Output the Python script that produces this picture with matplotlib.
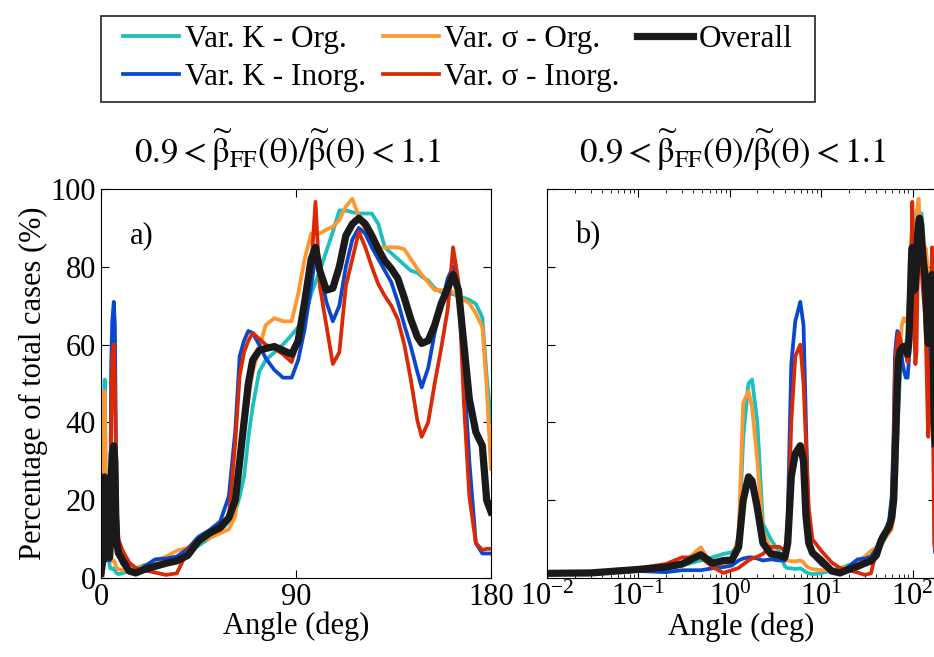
import matplotlib
matplotlib.use("Agg")
import matplotlib.pyplot as plt
from matplotlib.patches import Rectangle
import numpy as np

plt.rcParams['font.family'] = 'serif'
plt.rcParams['font.serif'] = ['Liberation Serif', 'DejaVu Serif']
plt.rcParams['mathtext.fontset'] = 'stix'
plt.rcParams['font.size'] = 22

# scattering angle (deg), shared by all series
angle = [0.01, 0.03, 0.1, 0.2, 0.3, 0.48, 0.65, 0.85, 1.05, 1.25,
         1.4, 1.6, 1.75, 2.0, 2.3, 2.8, 3.5, 4.0, 4.3, 4.7,
         5.2, 5.9, 6.4, 6.8, 7.3, 8.0, 10, 13, 16, 20,
         25, 30, 35, 40, 45, 50, 55, 59, 62, 64,
         66, 68, 70, 73, 76, 80, 84, 88, 91, 94,
         97, 99, 101, 104, 107, 110, 113, 116, 119, 122,
         125, 128, 131, 134, 137, 140, 143, 146, 148, 151,
         154, 157, 160, 162.5, 165, 167.5, 170, 173, 176, 178, 180]

k_org = [1.3, 1.3, 2.0, 2.5, 3.2, 4.5, 5.3, 6.2, 6.6, 8.5,
         36, 50, 51, 40, 14, 10, 6.5, 3.0, 2.5, 2.5,
         2.3, 2.5, 2.0, 1.5, 1.2, 1.0, 1.2, 2.0, 2.5, 3.3,
         3.6, 3.8, 5.5, 6.8, 8.3, 10.2, 12, 14.5, 17, 21,
         26, 36, 44, 53, 56, 58, 60, 62.5, 64.5, 67,
         73, 76, 79, 84, 89, 94.5, 94.5, 94, 93.7, 93.7,
         93.7, 91, 85, 83.5, 82, 80.5, 79, 78.5, 77.5, 76.5,
         74.5, 73.5, 73, 73, 72.5, 72, 71.5, 70.5, 67, 52, 40]

s_org = [1.3, 1.3, 2.2, 2.6, 3.6, 7.9, 3.0, 3.6, 4.2, 11,
         45, 48, 44, 30, 12, 7.5, 5.5, 4.5, 4.5, 4.3,
         4.3, 4.5, 4.0, 3.2, 2.6, 2.3, 2.0, 2.0, 2.4, 3.0,
         4.5, 5.5, 7.0, 7.8, 9.2, 10.3, 11.5, 12.5, 16, 28,
         38, 46, 53, 59, 65, 66.8, 66, 66, 73, 82,
         88.6, 88.6, 88.6, 89.5, 90.3, 92, 95.5, 97.5, 93, 89.5,
         87, 85, 85, 85, 85, 84.5, 82, 79.5, 78, 76,
         74, 74, 74, 73.5, 72.5, 71.5, 70.6, 68, 64.5, 49, 28]

k_inorg = [1.2, 1.2, 1.8, 1.5, 2.0, 2.0, 2.5, 2.8, 3.2, 4.5,
           5.0, 5.3, 5.3, 5.0, 4.5, 4.8, 4.5, 4.5, 15, 55,
           66, 71, 65, 40, 12, 6, 3.5, 1.6, 1.2, 3.0,
           4.8, 5.0, 5.5, 7.5, 10.6, 12.3, 14.5, 21, 38, 57,
           61, 63.5, 63, 60, 56.5, 53.5, 51.5, 51.5, 56, 64,
           75, 83, 79, 71, 66, 70, 80, 87, 90, 88.5,
           85, 82, 79, 76, 71, 65, 59.5, 53, 49, 54,
           63, 70, 77, 80, 74, 53, 30, 9, 6.3, 6.3, 6.3]

s_inorg = [1.2, 1.5, 2.5, 3.6, 5.3, 5.3, 2.8, 1.3, 2.0, 2.6,
           3.5, 4.5, 5.0, 5.5, 6.2, 8.0, 8.0, 7.0, 10, 40,
           57, 60, 50, 35, 18, 10, 7, 4, 2.6, 2.0,
           1.4, 0.8, 1.2, 7, 10, 11.5, 12.3, 15.5, 35, 52,
           58, 61, 63, 61.5, 60, 59, 57.5, 55.5, 61, 71,
           80, 96.7, 75, 65, 55, 58, 75, 82, 89, 85,
           80, 75.5, 72.5, 70, 66.5, 60, 51, 40.5, 36.3, 40,
           50, 59, 69, 85, 76, 45, 21, 9, 7.2, 7.5, 7.5]

overall = [1.2, 1.3, 2.2, 2.8, 3.6, 6.0, 3.8, 4.5, 4.6, 8,
           20, 26, 25, 18, 9, 6.2, 5.8, 5.3, 9, 26,
           32, 34, 30, 16, 9, 6.5, 4.5, 1.8, 1.3, 2.2,
           3.0, 3.8, 4.4, 5.8, 9.5, 11.5, 13, 15.5, 20, 30,
           40, 50, 56, 58.5, 59, 59.5, 58.5, 57.5, 61, 71,
           82, 85, 79, 74, 74.5, 80, 88, 91, 92.5, 91,
           88, 84.5, 81.5, 79.5, 77, 72, 66.5, 62, 60.3, 61,
           65, 70.5, 74.5, 78, 74, 60, 46, 37.5, 34, 20, 17]

series = [
    ('Var. K - Org.', k_org, '#1bbfbf', 2.7),
    ('Var. K - Inorg.', k_inorg, '#0a47cc', 2.7),
    ('Var. σ - Org.', s_org, '#ff962e', 2.7),
    ('Var. σ - Inorg.', s_inorg, '#d92a05', 2.7),
    ('Overall', overall, '#1a1a1a', 5.2),
]
draw_order = [0, 2, 1, 3, 4]

title = r'$0.9 < \widetilde{\mathrm{\beta}}_{\mathrm{FF}}(\mathrm{\theta})/\widetilde{\mathrm{\beta}}(\mathrm{\theta}) < 1.1$'

W, H = 934, 657
fig = plt.figure(figsize=(W / 100, H / 100), dpi=100)
ax1 = fig.add_axes([101/W, 79/H, 390/W, 389/H])
ax2 = fig.add_axes([547/W, 79/H, 389/W, 389/H])

x = np.array(angle)
handles = {}
for ax in (ax1, ax2):
    for i in draw_order:
        name, vals, col, lw = series[i]
        ln, = ax.plot(x, vals, color=col, lw=lw, label=name)
        handles[i] = ln
    ax.set_ylim(0, 100)
    ax.set_yticks([0, 20, 40, 60, 80, 100])
    ax.tick_params(direction='in', top=True, right=True, which='both',
                   length=6, labelsize=22)
    ax.tick_params(which='minor', length=3)
    ax.set_xlabel('Angle (deg)', labelpad=0)
    ax.text(0.478, 1.10, title, transform=ax.transAxes, fontsize=25,
            ha='center', va='center')

ax1.set_xlim(0, 180)
ax1.set_xticks([0, 90, 180])
ax1.set_ylabel('Percentage of total cases (%)', labelpad=2)
ax1.text(0.075, 0.86, 'a)', transform=ax1.transAxes, fontsize=22)

ax2.set_xscale('log')
ax2.set_xlim(0.01, 180)
ax2.set_yticklabels([])
ax2.text(0.072, 0.86, 'b)', transform=ax2.transAxes, fontsize=22)

# legend frame drawn separately so the padding can match
fig.patches.append(Rectangle((101/W, 1 - 102/H), 714/W, 86/H,
                             transform=fig.transFigure, fill=False,
                             edgecolor='#222222', lw=1.2))
leg = fig.legend([handles[i] for i in range(5)], [s[0] for s in series],
                 ncol=3, loc='upper left', bbox_to_anchor=(123/W, 1 - 25/H),
                 frameon=False, fontsize=22.5,
                 handlelength=1.8, handletextpad=0.17, columnspacing=0.55,
                 labelspacing=0.3, borderpad=0, borderaxespad=0)

fig.savefig('out.png', dpi=100)
